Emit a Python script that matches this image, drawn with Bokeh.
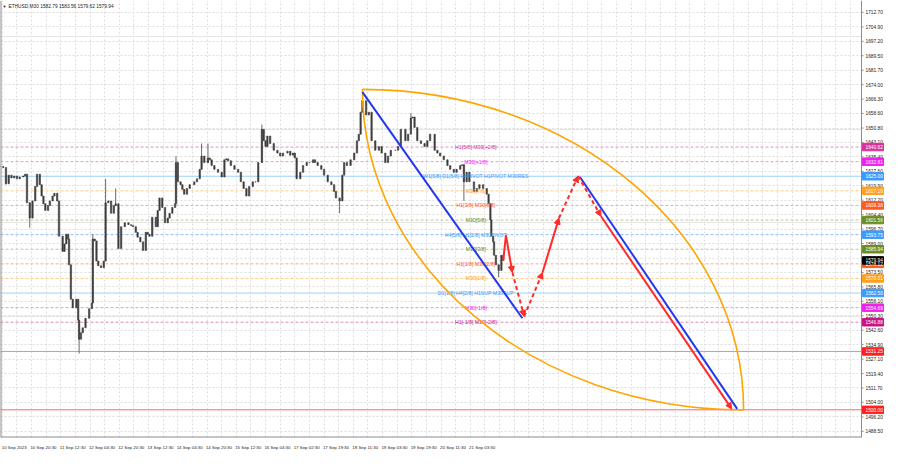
from bokeh.plotting import figure
from bokeh.models import (FixedTicker, Label, Arrow, NormalHead, ColumnDataSource,
                          Range1d, Span, Grid)
from bokeh.core.properties import value
from bokeh.embed import file_html
from bokeh.resources import INLINE

# ---------------- data ----------------
bars = [0, 3, 6, 9, 12, 15, 18, 21, 25, 27, 29, 32, 35, 38, 40, 43, 45, 47, 49, 52, 54, 57, 59, 62,
        64, 68, 70, 72, 74, 75, 77, 79, 83, 85, 86, 88, 90, 93, 97, 100, 101, 103, 105, 107, 110,
        113, 115, 118, 121, 124, 126, 129, 132, 136, 140, 143, 145, 148, 150, 153, 156, 159, 161,
        163, 166, 170, 172, 174, 177, 180, 183, 185, 188, 191, 192, 194, 197, 199, 201, 204, 207,
        212, 215, 218, 220, 223, 227, 229, 231, 234, 238, 242, 245, 247, 249, 252, 256, 260, 263,
        266, 269, 272, 276, 279, 282, 286, 288, 290, 292, 295, 299, 303, 306, 309, 314, 317, 320,
        322, 324, 328, 331, 335, 338, 342, 344, 347, 351, 354, 358, 362, 365, 367, 371, 374, 376,
        379, 383, 387, 390, 392, 394, 396, 400, 403, 406, 410, 414, 417, 421, 424, 427, 432, 435,
        438, 443, 446, 449, 451, 453, 456, 460, 464, 467, 470, 475, 478, 481, 485, 489, 492, 496,
        499, 503, 505, 507, 510, 513, 518, 521, 524, 528, 532, 534, 536, 537, 539, 540, 542, 545,
        548, 550]
closes = [1630.2, 1629.7, 1621.0, 1625.6, 1624.1, 1625.1, 1623.6, 1624.6, 1625.1, 1626.1, 1610.8,
          1602.6, 1611.8, 1619.5, 1626.1, 1620.5, 1614.4, 1610.3, 1606.7, 1609.3, 1611.8, 1614.4,
          1615.9, 1611.8, 1592.9, 1584.8, 1588.8, 1594.0, 1591.4, 1577.6, 1559.2, 1554.6, 1559.2,
          1548.0, 1537.8, 1541.3, 1543.9, 1549.0, 1554.1, 1557.2, 1591.4, 1590.4, 1579.6, 1577.1,
          1576.1, 1579.6, 1610.8, 1611.8, 1605.2, 1609.3, 1610.3, 1586.3, 1598.0, 1600.1, 1599.1,
          1598.6, 1598.0, 1595.0, 1592.4, 1589.9, 1585.3, 1595.0, 1594.0, 1592.9, 1603.1, 1598.0,
          1606.7, 1613.4, 1608.3, 1600.1, 1602.6, 1605.2, 1608.3, 1610.3, 1632.3, 1622.0, 1620.5,
          1618.0, 1615.4, 1618.5, 1620.5, 1622.0, 1623.6, 1628.7, 1635.8, 1632.3, 1634.8, 1633.8,
          1630.7, 1628.7, 1627.1, 1624.6, 1633.8, 1634.3, 1633.3, 1630.7, 1628.7, 1627.1, 1622.0,
          1618.5, 1614.4, 1619.5, 1622.0, 1622.0, 1632.3, 1650.1, 1644.0, 1640.9, 1646.5, 1642.5,
          1638.9, 1637.4, 1635.8, 1637.4, 1638.4, 1636.3, 1637.4, 1634.8, 1623.6, 1627.1, 1630.7,
          1632.3, 1632.3, 1633.8, 1632.3, 1630.7, 1628.7, 1625.6, 1622.0, 1620.5, 1616.9, 1613.4,
          1611.8, 1625.6, 1632.3, 1630.7, 1633.8, 1637.4, 1644.0, 1647.5, 1659.3, 1665.4, 1657.8,
          1659.3, 1644.0, 1638.9, 1640.9, 1637.4, 1632.3, 1635.8, 1638.9, 1638.9, 1640.9, 1650.1,
          1644.0, 1647.5, 1656.2, 1656.7, 1651.1, 1644.0, 1642.5, 1640.9, 1644.0, 1647.5, 1638.9,
          1637.4, 1635.8, 1633.8, 1630.7, 1628.7, 1627.1, 1628.7, 1630.7, 1631.2, 1622.0, 1627.1,
          1622.0, 1616.9, 1618.5, 1620.5, 1618.5, 1615.4, 1610.3, 1601.6, 1592.9, 1589.9, 1582.7,
          1577.6, 1574.6, 1582.7, 1579.94]

spike_bars = [6, 32, 86, 101, 115, 126, 192, 220, 227, 286, 371, 396, 449, 507, 545]
spike_high = [1625.6, 1611.0, 1548.0, 1594.0, 1623.6, 1618.5, 1635.8, 1642.5, 1642.5, 1652.7,
              1613.4, 1668.0, 1658.8, 1631.2, 1577.6]
spike_low = [1620.5, 1597.5, 1530.1, 1557.2, 1610.0, 1609.0, 1610.3, 1628.7, 1632.0, 1632.3,
             1605.2, 1659.3, 1650.0, 1611.8, 1571.0]

time_tick_bars = [2, 34, 66, 98, 130, 162, 194, 226, 258, 290, 322, 354, 386, 418, 450, 482, 514]
time_labels = ["10 Sep 2023", "10 Sep 20:30", "11 Sep 12:30", "12 Sep 04:30", "12 Sep 20:30",
               "13 Sep 12:30", "14 Sep 04:30", "14 Sep 20:30", "15 Sep 12:30", "16 Sep 04:30",
               "17 Sep 02:30", "17 Sep 19:30", "18 Sep 11:30", "19 Sep 03:30", "19 Sep 19:30",
               "20 Sep 11:30", "21 Sep 03:30"]

price_ticks = [1712.70, 1704.90, 1697.20, 1689.50, 1681.70, 1674.00, 1666.30, 1658.60, 1650.80,
               1643.10, 1635.40, 1627.60, 1619.90, 1612.20, 1604.40, 1596.70, 1589.00, 1581.20,
               1573.50, 1565.80, 1558.10, 1550.30, 1542.60, 1534.90, 1527.10, 1519.40, 1511.70,
               1504.00, 1496.20, 1488.50]

levels = [1640.62, 1632.81, 1625.00, 1617.19, 1609.38, 1601.56, 1593.75, 1585.94, 1578.12,
          1570.31, 1562.50, 1554.69, 1546.88, 1531.25, 1500.00]
level_texts = ["H1[5/8] M30[+2/8]", "M30[+1/8]", "W1[5/8] D1[5/8] H4PIVOT H1PIVOT M30RES",
               "M30[7/8]", "H1[3/8] M30[6/8]", "M30[5/8]", "H4[5/8] H1[2/8] M30PIVOT", "M30[3/8]",
               "H1[1/8] M30[2/8]", "M30[1/8]", "D1[1/8] H4[2/8] H1SUP M30SUP", "M30[-1/8]",
               "H1[-1/8] M30[-2/8]", "", ""]
level_colors = ["#d6339e", "#ee22ee", "#3d9bff", "#ffa01e", "#ff5a1e", "#6b8e23", "#3d9bff",
                "#6b8e23", "#ff5a1e", "#ffa01e", "#3d9bff", "#ee22ee", "#c71585", "#ff2020",
                "#ff2020"]
level_line_colors = ["#e58ac8", "#f08cf0", "#9fd3fa", "#ffcf8a", "#ffaa88", "#b9c99a", "#8ebcf5",
                     "#b9c99a", "#ffaa88", "#ffcf8a", "#9fd3fa", "#f08cf0", "#e08ab8", "#b8a0a0",
                     "#ff7070"]
level_dashes = ["3 2", "3 2", "solid", "3 2", "3 2", "3 2", "3 2", "3 2", "3 2", "3 2", "solid",
                "3 2", "3 2", "solid", "solid"]

current_price = 1579.94
title_text = "ETHUSD,M30  1582.79 1583.56 1579.62 1579.94"

forecast_bars = [550, 553, 560, 573, 593, 611, 632, 657, 800]
forecast_prices = [1579.94, 1593.4, 1573.5, 1550.0, 1573.5, 1602.6, 1625.1, 1603.6, 1500.5]
forecast_dashed = [False, False, True, True, False, True, True, False]
forecast_head = [False, True, True, True, True, True, True, True]

channel_x0 = [396, 634]
channel_y0 = [1670.0, 1624.6]
channel_x1 = [571, 806]
channel_y1 = [1549.0, 1500.5]

arc_start = (396, 1671.5)
arc_end = (813, 1500.0)

# ---------------- figure ----------------
FONT = "Liberation Sans"
FS = "4.8px"
W, H = 884, 452
CHART_PX = 861              # chart area width in px; the rest is the price scale
XMAX = 942                  # last bar slot shown inside the chart area
XTOT = XMAX * W / CHART_PX  # range end including the price-scale strip
PX = (XTOT - XMAX) / (W - CHART_PX)   # data units per pixel horizontally
YLO, YHI = 1485.2, 1719.05

p = figure(width=W, height=H, x_range=Range1d(0, XTOT), y_range=Range1d(YLO, YHI),
           output_backend="svg", toolbar_location=None, y_axis_location=None,
           min_border_left=0, min_border_top=0, min_border_right=0, min_border_bottom=10)
p.background_fill_color = "white"
p.border_fill_color = "white"
p.outline_line_color = None

# grid
p.xgrid.ticker = FixedTicker(ticks=list(range(2, XMAX, 16)))
p.xgrid.grid_line_color = "#dedede"
p.xgrid.grid_line_dash = "2 2"
yg = Grid(dimension=1, ticker=FixedTicker(ticks=price_ticks), grid_line_color="#dedede",
          grid_line_dash="2 2")
p.add_layout(yg)

# x axis (labels start at their tick like MT4)
LAB_OFF = 13
p.xaxis.ticker = FixedTicker(ticks=[t + LAB_OFF for t in time_tick_bars])
p.xaxis.major_label_overrides = {t + LAB_OFF: s for t, s in zip(time_tick_bars, time_labels)}
p.xaxis.major_tick_line_color = None
p.xaxis.minor_tick_line_color = None
p.xaxis.axis_line_color = None
p.xaxis.major_label_standoff = 1
p.xaxis.major_label_text_font = FONT
p.xaxis.major_label_text_font_size = "4.4px"
p.xaxis.major_label_text_color = "#222222"

# level lines
for lv, c, d in zip(levels, level_line_colors, level_dashes):
    p.add_layout(Span(location=lv, dimension="width", line_color=c, line_dash=d, line_width=1,
                      level="underlay"))

# candles: body from previous close to close
opens = [closes[0]] + closes[:-1]
tops = [max(a, b) for a, b in zip(opens, closes)]
bots = [min(a, b) for a, b in zip(opens, closes)]
p.segment(x0=spike_bars, y0=spike_low, x1=spike_bars, y1=spike_high, line_color="#6a6a6a",
          line_width=1)
p.vbar(x=bars, top=tops, bottom=bots, width=1.5, fill_color="#3c3c3c", line_color="#3c3c3c",
       line_width=0.6)

# level texts
lt = [(lv, t, c) for lv, t, c in zip(levels, level_texts, level_colors) if t]
lsrc = ColumnDataSource(dict(x=[520] * len(lt), y=[a[0] for a in lt], t=[a[1] for a in lt],
                             c=[a[2] for a in lt]))
p.text(x="x", y="y", text="t", text_color="c", source=lsrc, text_align="center",
       text_baseline="middle", text_font=value(FONT), text_font_size=value("5.2px"))

# orange arcs (quarter ellipses as cubic bezier)
K = 0.5523
(xa, ya), (xb, yb) = arc_start, arc_end
p.bezier(x0=[xa, xa], y0=[ya, ya], x1=[xb, xb], y1=[yb, yb],
         cx0=[xa + K * (xb - xa), xa], cy0=[ya, ya - K * (ya - yb)],
         cx1=[xb, xb - K * (xb - xa)], cy1=[yb + K * (ya - yb), yb],
         line_color="#ffa500", line_width=1.6)

# blue channel lines
p.segment(x0=channel_x0, y0=channel_y0, x1=channel_x1, y1=channel_y1, line_color="#2238ee",
          line_width=2)

# red forecast path
segs = list(zip(forecast_bars[:-1], forecast_prices[:-1], forecast_bars[1:], forecast_prices[1:],
                forecast_dashed, forecast_head))
for dashed in (False, True):
    sel = [s for s in segs if s[4] == dashed and s[5]]
    if sel:
        src = ColumnDataSource(dict(x0=[s[0] for s in sel], y0=[s[1] for s in sel],
                                    x1=[s[2] for s in sel], y1=[s[3] for s in sel]))
        p.add_layout(Arrow(source=src, x_start="x0", y_start="y0", x_end="x1", y_end="y1",
                           line_color="#ff2a2a", line_width=2,
                           line_dash="4 3" if dashed else "solid",
                           end=NormalHead(size=6, fill_color="#ff2a2a", line_color="#ff2a2a")))
plain = [s for s in segs if not s[5]]
p.segment(x0=[s[0] for s in plain], y0=[s[1] for s in plain], x1=[s[2] for s in plain],
          y1=[s[3] for s in plain], line_color="#ff2a2a", line_width=2)

# ---- price scale strip (inside the frame, right of the chart area) ----
p.quad(left=[XMAX], right=[XTOT], bottom=[YLO], top=[YHI], fill_color="white", line_color=None)
p.add_layout(Span(location=XMAX, dimension="height", line_color="#8c8c8c", line_width=1))
p.add_layout(Span(location=0, dimension="height", line_color="#8c8c8c", line_width=2))
p.segment(x0=[0], y0=[YLO], x1=[XMAX], y1=[YLO], line_color="#8c8c8c", line_width=2)
p.segment(x0=[XMAX] * len(price_ticks), y0=price_ticks, x1=[XMAX + 2 * PX] * len(price_ticks),
          y1=price_ticks, line_color="#8c8c8c", line_width=1)
tsrc = ColumnDataSource(dict(x=[XMAX] * len(price_ticks), y=price_ticks,
                             t=[f"{v:.2f}" for v in price_ticks]))
p.text(x="x", y="y", text="t", source=tsrc, x_offset=4, text_align="left",
       text_baseline="middle", text_font=value(FONT), text_font_size=value(FS),
       text_color="#222222")

# price boxes on the right scale
box_levels = levels + [current_price]
box_colors = level_colors + ["#000000"]
BOX_W = 21
bsrc = ColumnDataSource(dict(x=[XMAX + (1 + BOX_W / 2) * PX] * len(box_levels), y=box_levels,
                             c=box_colors, t=[f"{v:.2f}" for v in box_levels],
                             tx=[XMAX] * len(box_levels)))
p.rect(x="x", y="y", width=BOX_W, height=7.5, width_units="screen", height_units="screen",
       fill_color="c", line_color="c", source=bsrc)
p.text(x="tx", y="y", text="t", source=bsrc, x_offset=4, text_align="left",
       text_baseline="middle", text_font=value(FONT), text_font_size=value(FS),
       text_color="white")

# title
p.add_layout(Label(x=0, y=YHI, x_offset=2, y_offset=-3, text="\u25bc", text_font=FONT,
                   text_font_size="4px", text_color="#222222", text_baseline="top"))
p.add_layout(Label(x=0, y=YHI, x_offset=8, y_offset=-3, text=title_text, text_font=FONT,
                   text_font_size=FS, text_color="#222222", text_baseline="top"))

open("out.html", "w").write(file_html(p, INLINE))
